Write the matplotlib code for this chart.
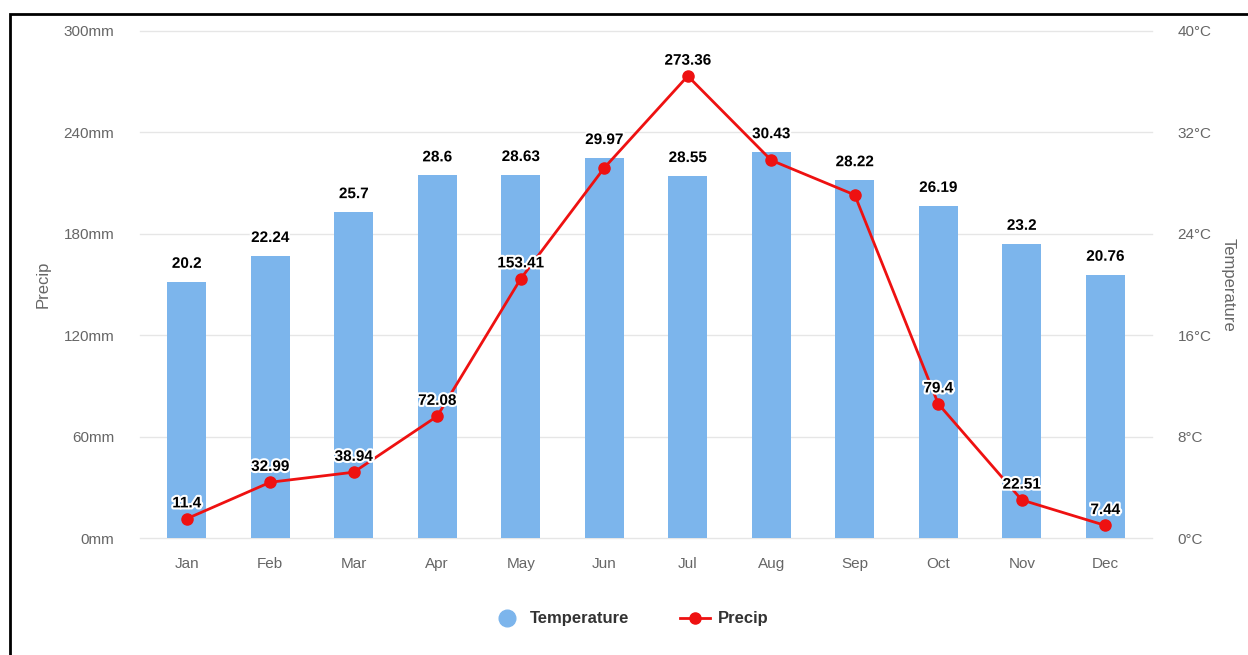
import matplotlib.pyplot as plt
from matplotlib.patches import Rectangle
from matplotlib.lines import Line2D
import matplotlib.patheffects as pe

months = ['Jan', 'Feb', 'Mar', 'Apr', 'May', 'Jun', 'Jul', 'Aug', 'Sep', 'Oct', 'Nov', 'Dec']
temperature = [20.2, 22.24, 25.7, 28.6, 28.63, 29.97, 28.55, 30.43, 28.22, 26.19, 23.2, 20.76]
precip = [11.4, 32.99, 38.94, 72.08, 153.41, 219.0, 273.36, 223.5, 203.0, 79.4, 22.51, 7.44]
precip_labels = ['11.4', '32.99', '38.94', '72.08', '153.41', '', '273.36', '', '', '79.4', '22.51', '7.44']
temp_labels = ['20.2', '22.24', '25.7', '28.6', '28.63', '29.97', '28.55', '30.43', '28.22', '26.19', '23.2', '20.76']
precip_ticks = [0, 60, 120, 180, 240, 300]
temp_ticks = [0, 8, 16, 24, 32, 40]

plt.rcParams['font.family'] = ['Liberation Sans', 'DejaVu Sans']

fig = plt.figure(figsize=(12.48, 6.55), dpi=100)
ax = fig.add_axes([145 / 1248, 117 / 655, 1002 / 1248, 507 / 655])
ax2 = ax.twinx()

x = list(range(len(months)))
halo = [pe.withStroke(linewidth=3, foreground='white')]

# temperature bars on the right axis
ax2.bar(x, temperature, width=0.47, color='#7cb5ec', zorder=2)
ax2.set_ylim(0, 40)
ax2.set_yticks(temp_ticks)
ax2.set_yticklabels([f'{t}°C' for t in temp_ticks])
for xi, t, lab in zip(x, temperature, temp_labels):
    ax2.annotate(lab, (xi, t), xytext=(0, 8), textcoords='offset points',
                 ha='center', va='bottom', fontsize=11, fontweight='bold',
                 color='black', path_effects=halo, zorder=5)

# precipitation line on the left axis, drawn over the bars
ax.set_zorder(ax2.get_zorder() + 1)
ax.patch.set_visible(False)
ax.plot(x, precip, color='#ee1111', lw=2, marker='o', ms=8, zorder=4)
ax.set_ylim(0, 300)
ax.set_yticks(precip_ticks)
ax.set_yticklabels([f'{p}mm' for p in precip_ticks])
for xi, p, lab in zip(x, precip, precip_labels):
    if lab:
        ax.annotate(lab, (xi, p), xytext=(0, 6), textcoords='offset points',
                    ha='center', va='bottom', fontsize=11, fontweight='bold',
                    color='black', path_effects=halo, zorder=6)

ax.set_xlim(-0.5, 11.5)
ax.set_xticks(x)
ax.set_xticklabels(months)

# horizontal grid on the left axis scale
for p in precip_ticks:
    ax2.axhline(p / 300 * 40, color='#e6e6e6', lw=1, zorder=1, xmin=-0.005, xmax=1.005, clip_on=False)

for a in (ax, ax2):
    for s in a.spines.values():
        s.set_visible(False)
    a.tick_params(length=0, colors='#666666', labelsize=11)
ax.tick_params(axis='x', pad=14)
ax.tick_params(axis='y', pad=22)
ax2.tick_params(axis='y', pad=22)

ax.set_ylabel('Precip', color='#666666', fontsize=12)
ax2.set_ylabel('Temperature', color='#666666', fontsize=12, rotation=270)
ax.yaxis.set_label_coords(-0.094, 0.5)
ax2.yaxis.set_label_coords(1.088, 0.5)

handles = [
    Line2D([], [], ls='none', marker='o', ms=12, color='#7cb5ec'),
    Line2D([], [], color='#ee1111', lw=2, marker='o', ms=8),
]
leg = fig.legend(handles, ['Temperature', 'Precip'], loc='center', bbox_to_anchor=(0.505, 36 / 655),
                 ncol=2, frameon=False, prop={'weight': 'bold', 'size': 12},
                 handlelength=1.8, columnspacing=3, handletextpad=0.5)
for t in leg.get_texts():
    t.set_color('#333333')

# outer frame
fig.patches.append(Rectangle((10 / 1248, -0.05), 1.2, (641 + 33) / 655, transform=fig.transFigure,
                             fill=False, edgecolor='black', lw=2))

fig.savefig('out.png', dpi=100)
